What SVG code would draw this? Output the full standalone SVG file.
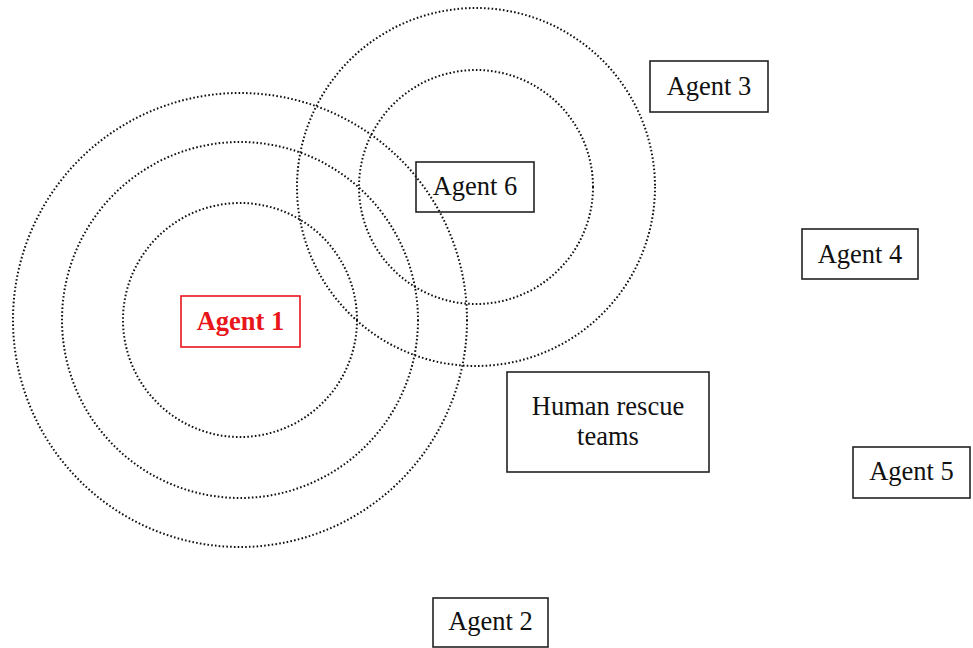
<svg xmlns="http://www.w3.org/2000/svg" width="973" height="648" viewBox="0 0 973 648">
<style>
.range{fill:none;stroke:#111;stroke-width:2;stroke-dasharray:1.6 2.2}
.box{fill:#fff;stroke:#222;stroke-width:1.6}
.lbl{font-family:"Liberation Serif","Times New Roman",serif;font-size:26.5px;fill:#111;text-anchor:middle}
.red .box{stroke:#e8151b}
.red .lbl{fill:#e8151b;font-weight:bold}
</style>
<rect width="973" height="648" fill="#fff"/>
<g id="ranges">
<circle class="range" cx="240" cy="320" r="117"/>
<circle class="range" cx="240" cy="320" r="178"/>
<circle class="range" cx="240" cy="320" r="227"/>
<circle class="range" cx="476" cy="187" r="117"/>
<circle class="range" cx="476" cy="187" r="179"/>
</g>
<g id="connectors"></g>
<g id="agent1" class="red">
<rect class="box" x="181" y="296" width="119" height="51" style="fill:none"/>
<text class="lbl" x="240.5" y="330">Agent 1</text>
</g>
<g id="agent6">
<rect class="box" x="416" y="162" width="118" height="50" style="fill:none"/>
<text class="lbl" x="475" y="195">Agent 6</text>
</g>
<g id="agent3">
<rect class="box" x="650" y="61" width="118" height="51"/>
<text class="lbl" x="709" y="95">Agent 3</text>
</g>
<g id="agent4">
<rect class="box" x="802" y="229" width="116" height="50"/>
<text class="lbl" x="860" y="263">Agent 4</text>
</g>
<g id="agent5">
<rect class="box" x="853" y="447" width="117" height="51"/>
<text class="lbl" x="911.5" y="480">Agent 5</text>
</g>
<g id="humans">
<rect class="box" x="507" y="372" width="202" height="100"/>
<text class="lbl" x="608" y="415">Human rescue</text>
<text class="lbl" x="608" y="445">teams</text>
</g>
<g id="agent2">
<rect class="box" x="433" y="598" width="115" height="49"/>
<text class="lbl" x="490.5" y="630">Agent 2</text>
</g>
</svg>
